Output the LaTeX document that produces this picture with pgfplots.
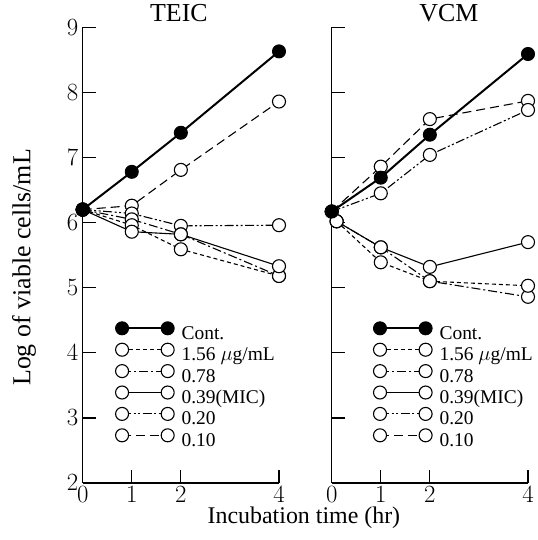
\documentclass[border=0pt]{standalone}
\usepackage{pgfplots}
\pgfplotsset{compat=1.18}
\usepackage{pgfplotstable}
\usepackage{fontspec}
\setmainfont{Liberation Serif}

\pgfplotstableread{
t    cont  c156  c078  c039  c020  c010
0    6.20  6.20  6.20  6.20  6.20  6.20
1    6.78  5.96  6.05  5.86  6.14  6.26
2    7.38  5.59  5.82  5.82  5.95  6.81
4    8.63  5.18  5.18  5.33  5.96  7.86
}\teic

\pgfplotstableread{
t    cont  c020  c010
0    6.17  6.17  6.17
1    6.69  6.45  6.86
2    7.35  7.04  7.59
4    8.59  7.73  7.87
}\vcmup

\pgfplotstableread{
t    c156  c078  c039
0.1  6.02  6.02  6.02
1    5.39  5.62  5.62
2    5.10  5.10  5.32
4    5.03  4.86  5.70
}\vcmdown

\pgfplotsset{
  open/.style={black, line width=1.1bp, mark=*, mark size=6.5bp,
    mark options={solid, fill=white, draw=black, line width=1.1bp}},
  s156/.style={open, dash pattern=on 4bp off 3bp},
  s078/.style={open, dash pattern=on 9bp off 3bp on 2bp off 3bp},
  s039/.style={open, solid},
  s020/.style={open, dash pattern=on 9bp off 2.5bp on 2bp off 2.5bp on 2bp off 2.5bp},
  s010/.style={open, dash pattern=on 9bp off 5bp},
  scont/.style={black, line width=2bp, mark=*, mark size=6.5bp,
    mark options={solid, fill=black, draw=black, line width=1bp}},
  legend image code/.code={\draw[#1] plot coordinates {(0bp,6.5bp) (45.6bp,6.5bp)};},
  common/.style={
    scale only axis, width=196.3bp, height=455.7bp,
    xmin=0, xmax=4, ymin=2, ymax=9,
    axis x line=bottom, axis y line=left,
    axis line style={-, line width=1.2bp},
    xtick={0,1,2,4}, ytick={2,3,...,9},
    tick align=inside, major tick length=13bp,
    tick style={line width=1.2bp, black},
    tick label style={font=\fontsize{26}{30}\selectfont},
    yticklabel style={xshift=-1bp},
    label style={font=\fontsize{26}{30}\selectfont},
    title style={font=\fontsize{26}{30}\selectfont, anchor=base},
    clip=false,
    legend style={draw=none, fill=none, font=\fontsize{19.5}{23}\selectfont,
      inner sep=0pt, outer sep=0pt, row sep=-0.6bp, column sep=7.5bp,
      nodes={inner sep=0pt, text height=13.5bp, text depth=4.5bp}},
    legend cell align=left,
  },
}

\begin{document}
\begin{tikzpicture}
\begin{axis}[common,
  title={TEIC}, title style={at={(axis description cs:0.49,1)}},
  ylabel={Log of viable cells/mL},
  ylabel style={at={(axis description cs:-0.299,0.473)}, anchor=center},
  xlabel={Incubation time (hr)},
  xlabel style={at={(axis description cs:1.127,-0.0768)}, anchor=center,
    font=\fontsize{24}{28}\selectfont},
  legend style={at={(axis cs:0.670,4.476)}, anchor=north west},
]
\addlegendimage{scont}
\addlegendimage{s156}
\addlegendimage{s078}
\addlegendimage{s039}
\addlegendimage{s020}
\addlegendimage{s010}
\legend{Cont., 1.56 $\mu$g/mL, 0.78, 0.39(MIC), 0.20, 0.10}
\addplot[s010, forget plot] table[x=t, y=c010] {\teic};
\addplot[s020, forget plot] table[x=t, y=c020] {\teic};
\addplot[s078, forget plot] table[x=t, y=c078] {\teic};
\addplot[s156, forget plot] table[x=t, y=c156] {\teic};
\addplot[s039, forget plot] table[x=t, y=c039] {\teic};
\addplot[scont, forget plot] table[x=t, y=cont] {\teic};
\end{axis}

\begin{axis}[common, at={(249bp,0bp)},
  yticklabels={},
  title={VCM}, title style={at={(axis description cs:0.597,1)}},
  legend style={at={(axis cs:0.852,4.476)}, anchor=north west},
]
\addlegendimage{scont}
\addlegendimage{s156}
\addlegendimage{s078}
\addlegendimage{s039}
\addlegendimage{s020}
\addlegendimage{s010}
\legend{Cont., 1.56 $\mu$g/mL, 0.78, 0.39(MIC), 0.20, 0.10}
\addplot[s010, forget plot] table[x=t, y=c010] {\vcmup};
\addplot[s020, forget plot] table[x=t, y=c020] {\vcmup};
\addplot[s078, forget plot] table[x=t, y=c078] {\vcmdown};
\addplot[s156, forget plot] table[x=t, y=c156] {\vcmdown};
\addplot[s039, forget plot] table[x=t, y=c039] {\vcmdown};
\addplot[scont, forget plot] table[x=t, y=cont] {\vcmup};
\end{axis}
\pgfresetboundingbox
\path (-82.7bp,-57bp) rectangle (455.3bp,483bp);
\end{tikzpicture}
\end{document}
